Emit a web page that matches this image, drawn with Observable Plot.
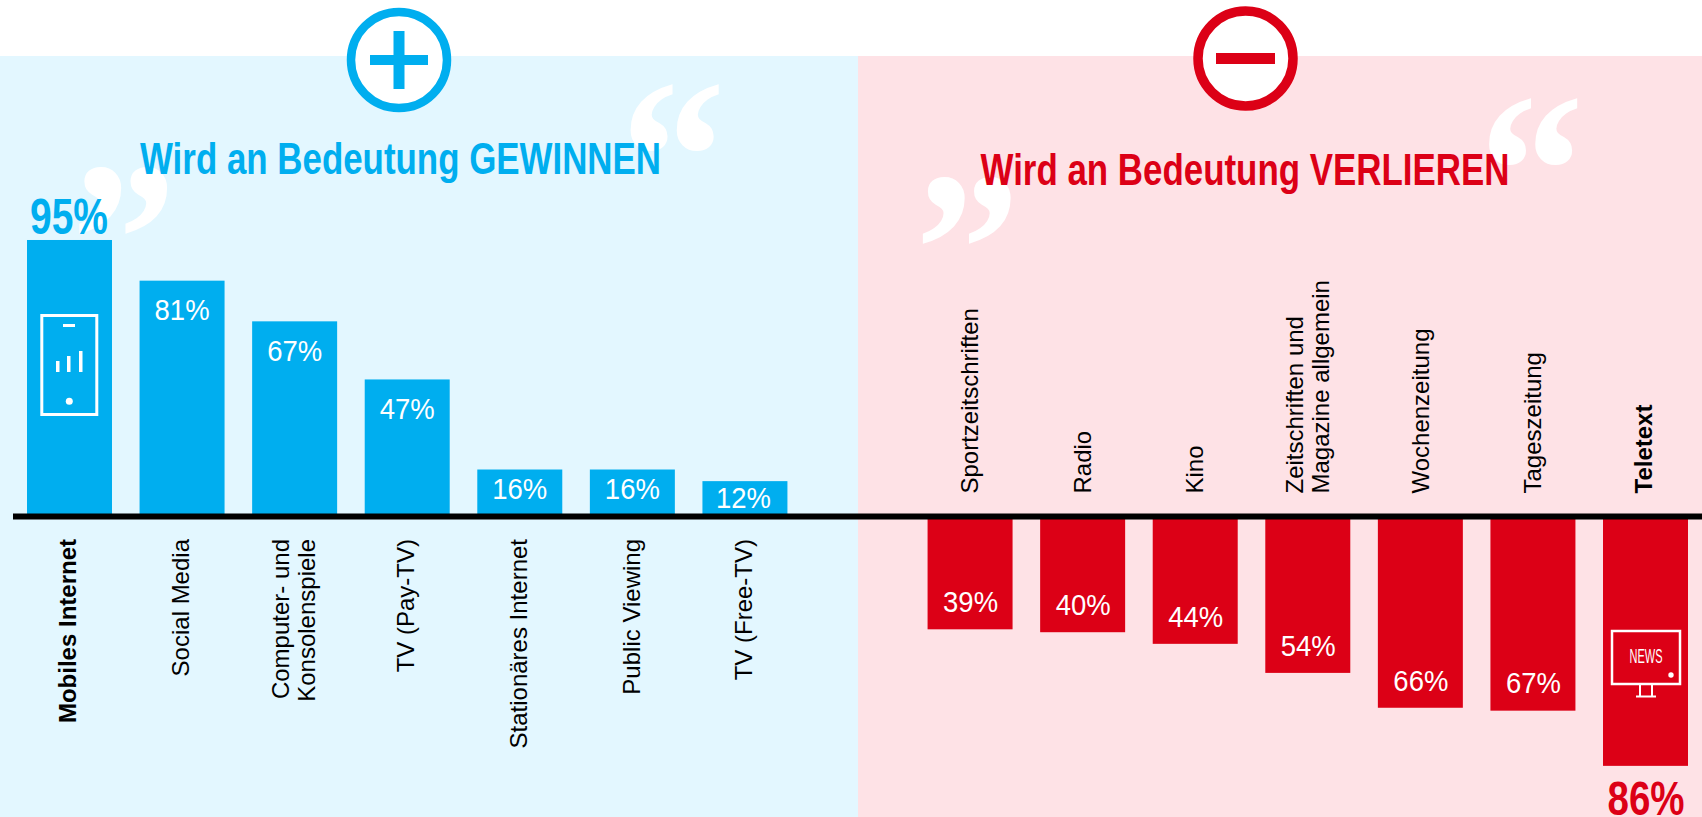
<!DOCTYPE html>
<html lang="de">
<head>
<meta charset="utf-8">
<script src="https://cdn.jsdelivr.net/npm/d3@7"></script>
<script src="https://cdn.jsdelivr.net/npm/@observablehq/plot@0.6"></script>
<style>
html,body{margin:0;padding:0;background:#fff;overflow:hidden}
svg{display:block}
</style>
</head>
<body>
<div id="chart"></div>
<script>
const gainNames = ["Mobiles Internet","Social Media","Computer- und\nKonsolenspiele","TV (Pay-TV)","Stationäres Internet","Public Viewing","TV (Free-TV)"];
const gainValues = [95,81,67,47,16,16,12];
const lossNames = ["Sportzeitschriften","Radio","Kino","Zeitschriften und\nMagazine allgemein","Wochenzeitung","Tageszeitung","Teletext"];
const lossValues = [39,40,44,54,66,67,86];
const gainTitle = "Wird an Bedeutung GEWINNEN";
const lossTitle = "Wird an Bedeutung VERLIEREN";

const BLUE = "#00AEEF", RED = "#DC0016", LIGHT_BLUE = "#E3F7FF", LIGHT_RED = "#FEE2E6";
const FONT = "'Liberation Sans', Arial, sans-serif";

const gains = gainNames.map((name, i) => ({name, value: gainValues[i], label: gainValues[i] + "%"}));
const losses = lossNames.map((name, i) => ({name, value: -lossValues[i], label: lossValues[i] + "%"}));
const domain = [...gainNames, "", ...lossNames];

// squeeze glyphs horizontally: the reference type is narrow and tall
const narrow = (w) => (I, s, v, d, c, next) => {
  const g = next(I, s, v, d, c);
  d3.select(g).selectAll("text").attr("textLength", w).attr("lengthAdjust", "spacingAndGlyphs");
  return g;
};

function background() {
  const g = d3.create("svg:g");
  g.append("rect").attr("x",0).attr("y",56).attr("width",858).attr("height",761).attr("fill",LIGHT_BLUE);
  g.append("rect").attr("x",858).attr("y",56).attr("width",844).attr("height",761).attr("fill",LIGHT_RED);
  const quote = (ch, x, y) => g.append("text").text(ch)
    .attr("transform",`translate(${x},${y}) scale(1.05,1.1)`)
    .attr("font-family","'Liberation Serif', serif").attr("font-weight","bold")
    .attr("font-size",200).attr("fill","#fff").attr("text-anchor","middle");
  quote("\u201C", 673, 231);
  quote("\u201D", 124, 314);
  quote("\u201C", 1531.5, 245);
  quote("\u201D", 967.5, 324);
  // plus badge
  g.append("circle").attr("cx",399).attr("cy",60).attr("r",48).attr("fill","#fff").attr("stroke",BLUE).attr("stroke-width",8.5);
  g.append("rect").attr("x",370).attr("y",55).attr("width",58).attr("height",10).attr("fill",BLUE);
  g.append("rect").attr("x",393.5).attr("y",31).attr("width",11).attr("height",58).attr("fill",BLUE);
  // minus badge
  g.append("circle").attr("cx",1245.5).attr("cy",58.5).attr("r",47.5).attr("fill","#fff").attr("stroke",RED).attr("stroke-width",9.5);
  g.append("rect").attr("x",1216).attr("y",53).attr("width",59).attr("height",11).attr("fill",RED);
  // headings
  const heading = (t, x, y, w, col) => g.append("text").text(t).attr("x",x).attr("y",y)
    .attr("font-family",FONT).attr("font-weight","bold").attr("font-size",44).attr("fill",col)
    .attr("text-anchor","middle").attr("textLength",w).attr("lengthAdjust","spacingAndGlyphs");
  heading(gainTitle, 400.5, 174, 521, BLUE);
  heading(lossTitle, 1245, 185, 529, RED);
  return g.node();
}

function icons() {
  const g = d3.create("svg:g");
  // phone
  g.append("rect").attr("x",41.8).attr("y",315.5).attr("width",55).attr("height",99).attr("fill","none").attr("stroke","#fff").attr("stroke-width",3);
  g.append("rect").attr("x",63).attr("y",324).attr("width",12).attr("height",3).attr("fill","#fff");
  [[56,361],[67,356],[79,351]].forEach(([x,y]) =>
    g.append("rect").attr("x",x).attr("y",y).attr("width",3.5).attr("height",372-y).attr("fill","#fff"));
  g.append("circle").attr("cx",69.3).attr("cy",401.3).attr("r",3.5).attr("fill","#fff");
  // television
  g.append("rect").attr("x",1612).attr("y",631).attr("width",68).attr("height",53).attr("fill","none").attr("stroke","#fff").attr("stroke-width",2.5);
  g.append("text").text("NEWS").attr("x",1646).attr("y",663).attr("font-family",FONT).attr("font-size",20)
    .attr("fill","#fff").attr("text-anchor","middle").attr("textLength",33).attr("lengthAdjust","spacingAndGlyphs");
  g.append("circle").attr("cx",1671).attr("cy",675).attr("r",2.7).attr("fill","#fff");
  g.append("path").attr("d","M1640 685V696M1652 685V696M1636 696.5H1656").attr("stroke","#fff").attr("stroke-width",2).attr("fill","none");
  return g.node();
}

const isBold = (n) => n === gainNames[0] || n === lossNames[6];
const catStyle = {fontSize: 24, lineHeight: 1.06, rotate: -90, fill: "#000", fontFamily: FONT, text: "name", x: "name", y: () => 0};
const valStyle = {fontFamily: FONT, x: "name", y: "value", text: "label"};

const chart = Plot.plot({
  width: 1702, height: 817,
  marginTop: 0, marginRight: 0, marginBottom: 0, marginLeft: 0,
  style: {background: "transparent", fontFamily: FONT},
  x: {domain, range: [27, 1688], paddingInner: 0.245, paddingOuter: 0, round: false, axis: null},
  y: {domain: [-103.6, 177.6], range: [817, 0], axis: null},
  marks: [
    background,
    Plot.barY(gains, {x: "name", y: "value", fill: BLUE}),
    Plot.barY(losses, {x: "name", y: "value", fill: RED}),
    icons,
    Plot.ruleY([0], {stroke: "#000", strokeWidth: 6, insetLeft: 13}),
    // category labels
    Plot.text(gains.filter(d => !isBold(d.name)), {...catStyle, textAnchor: "end", dy: 22.5, dx: -1.5}),
    Plot.text(gains.filter(d => isBold(d.name)), {...catStyle, textAnchor: "end", dy: 22.5, dx: -2.5, fontWeight: "bold"}),
    Plot.text(losses.filter(d => !isBold(d.name)), {...catStyle, textAnchor: "start", dy: -23, dx: -0.5}),
    Plot.text(losses.filter(d => isBold(d.name)), {...catStyle, textAnchor: "start", dy: -23, dx: -2.5, fontWeight: "bold"}),
    // value labels
    Plot.text(gains.filter(d => d.value >= 47 && d.value < 90), {...valStyle, fill: "#fff", fontSize: 29, dy: 30, dx: -0.5, render: narrow(55)}),
    Plot.text(gains.filter(d => d.value === 16), {...valStyle, fill: "#fff", fontSize: 29, dy: 20, dx: -0.5, render: narrow(55)}),
    Plot.text(gains.filter(d => d.value === 12), {...valStyle, fill: "#fff", fontSize: 29, dy: 17, dx: -2, render: narrow(55)}),
    Plot.text(losses.filter(d => d.value > -80), {...valStyle, fill: "#fff", fontSize: 29, dy: -27, render: narrow(55)}),
    Plot.text(gains.filter(d => d.value >= 90), {...valStyle, fill: BLUE, fontSize: 50, fontWeight: "bold", dy: -22, dx: -1, render: narrow(78)}),
    Plot.text(losses.filter(d => d.value <= -80), {...valStyle, fill: RED, fontSize: 49, fontWeight: "bold", dy: 33, render: narrow(77)})
  ]
});
document.getElementById("chart").appendChild(chart);
</script>
</body>
</html>
